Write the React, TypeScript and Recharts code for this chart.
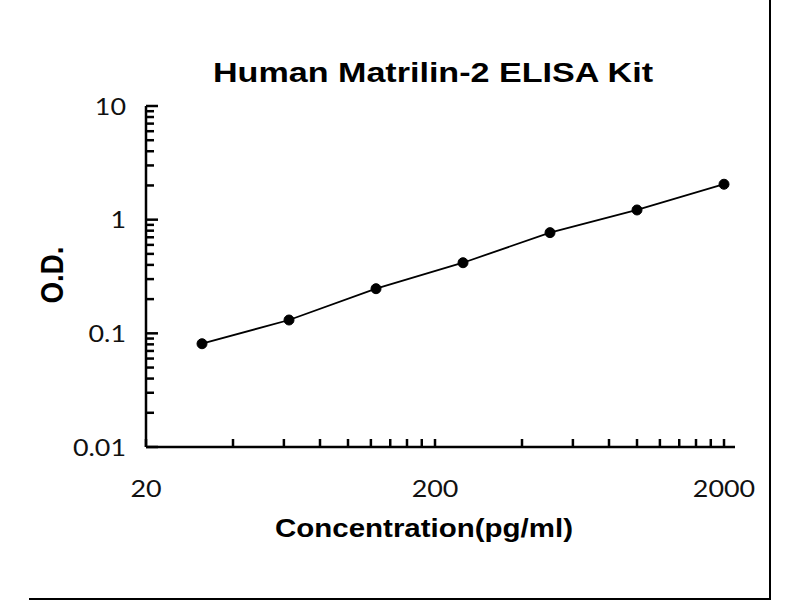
import React from "react";
import { LineChart, Line, XAxis, YAxis } from "recharts";

const concentrations = [31.25, 62.5, 125, 250, 500, 1000, 2000];
const odValues = [0.081, 0.131, 0.247, 0.418, 0.769, 1.217, 2.05];

const xMajorTicks = [20, 200, 2000];
const xMinorTicks = [40, 60, 80, 100, 120, 140, 160, 180, 400, 600, 800, 1000, 1200, 1400, 1600, 1800];
const yMajorTicks = [0.01, 0.1, 1, 10];
const yMinorTicks = [
  0.02, 0.03, 0.04, 0.05, 0.06, 0.07, 0.08, 0.09,
  0.2, 0.3, 0.4, 0.5, 0.6, 0.7, 0.8, 0.9,
  2, 3, 4, 5, 6, 7, 8, 9,
];

const titleText = "Human Matrilin-2 ELISA Kit";
const xLabelText = "Concentration(pg/ml)";
const yLabelText = "O.D.";

const data = concentrations.map((c, i) => ({ conc: c, od: odValues[i] }));

const boldFont = "'Liberation Sans', Arial, sans-serif";
const tickFont = "Lato, 'Open Sans', sans-serif";

const XTick = (props: any) => {
  const { x, y, payload } = props;
  const v = payload.value;
  const isMajor = xMajorTicks.includes(v);
  return (
    <g>
      <line x1={x} x2={x} y1={y} y2={y - 8} stroke="#000" strokeWidth={2.5} />
      {isMajor && (
        <g transform={`translate(${x},${y + 50}) scale(1.12,1)`}>
          <text x={0} y={0} textAnchor="middle" fontFamily={tickFont} fontSize={24} fill="#111">
            {String(v)}
          </text>
        </g>
      )}
    </g>
  );
};

const YTick = (props: any) => {
  const { x, y, payload } = props;
  const v = payload.value;
  const isMajor = yMajorTicks.includes(v);
  return (
    <g>
      <line x1={x} x2={x + (isMajor ? 12 : 8)} y1={y} y2={y} stroke="#000" strokeWidth={2.5} />
      {isMajor && (
        <g transform={`translate(${x - 20},${y + 8.5}) scale(1.12,1)`}>
          <text x={0} y={0} textAnchor="end" fontFamily={tickFont} fontSize={24} fill="#111">
            {String(v)}
          </text>
        </g>
      )}
    </g>
  );
};

export default function App() {
  return (
    <div style={{ position: "absolute", left: 0, top: 0, width: 800, height: 600, background: "#fff" }}>
      <div
        style={{
          position: "absolute",
          left: 29,
          top: -10,
          width: 742,
          height: 610,
          boxSizing: "border-box",
          borderRight: "2px solid #000",
          borderBottom: "2px solid #000",
        }}
      />
      <svg width={800} height={600} style={{ position: "absolute", left: 0, top: 0 }}>
        <text
          x={433}
          y={82}
          textAnchor="middle"
          fontFamily={boldFont}
          fontWeight="bold"
          fontSize={28}
          textLength={440}
          lengthAdjust="spacingAndGlyphs"
          fill="#000"
        >
          {titleText}
        </text>
        <text
          x={424}
          y={537}
          textAnchor="middle"
          fontFamily={boldFont}
          fontWeight="bold"
          fontSize={25.5}
          textLength={298}
          lengthAdjust="spacingAndGlyphs"
          fill="#000"
        >
          {xLabelText}
        </text>
        <g transform="translate(63,275) scale(1.16,1) rotate(-90)">
          <text
            x={0}
            y={0}
            textAnchor="middle"
            fontFamily={boldFont}
            fontWeight="bold"
            fontSize={27}
            textLength={57}
            lengthAdjust="spacingAndGlyphs"
            fill="#000"
          >
            {yLabelText}
          </text>
        </g>
      </svg>
      <div style={{ position: "absolute", left: 0, top: 0 }}>
        <LineChart width={800} height={600} data={data} margin={{ top: 106, right: 65, bottom: 0, left: 0 }}>
          <XAxis
            dataKey="conc"
            type="number"
            scale="log"
            domain={[20, 2183]}
            allowDataOverflow
            ticks={[...xMajorTicks, ...xMinorTicks]}
            interval={0}
            height={153}
            tickSize={0}
            tickMargin={0}
            tickLine={false}
            axisLine={{ stroke: "#000", strokeWidth: 2.5 }}
            tick={<XTick />}
          />
          <YAxis
            type="number"
            scale="log"
            domain={[0.01, 10]}
            allowDataOverflow
            ticks={[...yMajorTicks, ...yMinorTicks]}
            interval={0}
            width={146}
            tickSize={0}
            tickMargin={0}
            tickLine={false}
            axisLine={{ stroke: "#000", strokeWidth: 2.5 }}
            tick={<YTick />}
          />
          <Line
            dataKey="od"
            stroke="#000"
            strokeWidth={1.8}
            dot={{ r: 5, fill: "#000", stroke: "#000", strokeWidth: 1 }}
            isAnimationActive={false}
          />
        </LineChart>
      </div>
    </div>
  );
}
